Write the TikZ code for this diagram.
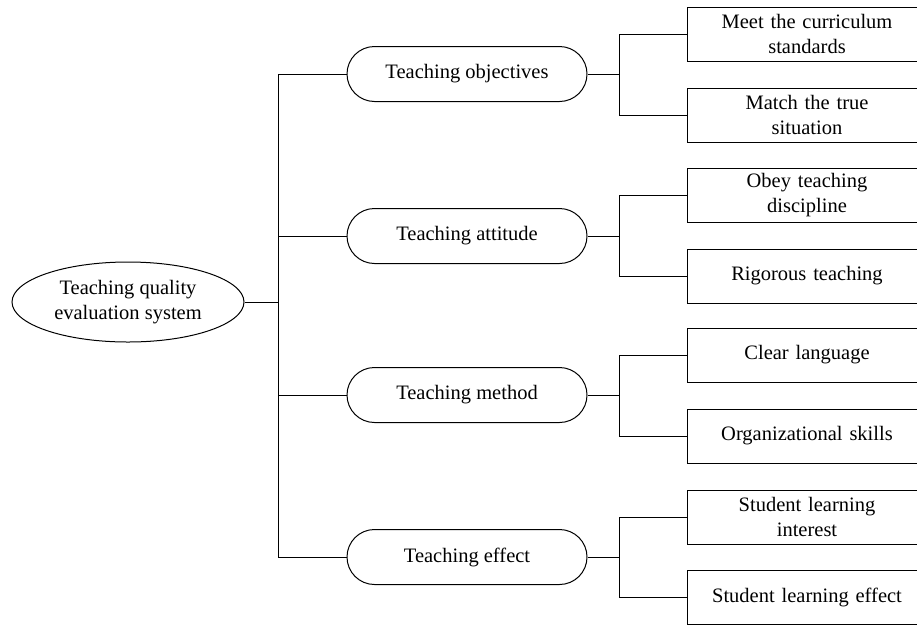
\documentclass[tikz,border=0pt]{standalone}
\usepackage{fontspec}
\setmainfont{Liberation Serif}
\usetikzlibrary{shapes.geometric, shapes.misc}

\begin{document}
\begin{tikzpicture}[x=1pt, y=-1pt, line width=1pt,
  font=\fontsize{20.5}{25}\selectfont,
  rootnode/.style={ellipse, draw, minimum width=232pt, minimum height=80pt, inner sep=0pt, align=center},
  mainnode/.style={rounded rectangle, draw, minimum width=240pt, minimum height=55pt, inner sep=0pt},
  leafnode/.style={rectangle, draw, minimum width=240pt, minimum height=54pt, inner sep=0pt, text width=225pt, align=center}]
\useasboundingbox (0,0) rectangle (917,627);
\clip (0,0) rectangle (917,627);
% root:
\node (root) at (128,302) [rootnode] {Teaching quality\\evaluation system};
% second level:
\node (obj) at (467,74) [mainnode] {Teaching objectives};
\node (att) at (467,236) [mainnode] {Teaching attitude};
\node (met) at (467,395) [mainnode] {Teaching method};
\node (eff) at (467,557) [mainnode] {Teaching effect};
% leaves:
\node (obj1) at (807,34) [leafnode] {Meet the curriculum\\standards};
\node (obj2) at (807,115) [leafnode] {Match the true\\situation};
\node (att1) at (807,195) [leafnode] {Obey teaching\\discipline};
\node (att2) at (807,276) [leafnode] {Rigorous teaching};
\node (met1) at (807,355) [leafnode] {Clear language};
\node (met2) at (807,436) [leafnode] {Organizational skills};
\node (eff1) at (807,517) [leafnode] {Student learning\\interest};
\node (eff2) at (807,597) [leafnode] {Student learning effect};
% trunk:
\coordinate (trunk) at (278,0);
\draw (root.east) -- (root.east -| trunk);
\draw (obj.west -| trunk) -- (eff.west -| trunk);
\foreach \m in {obj,att,met,eff}
  \draw (\m.west) -- (\m.west -| trunk);
% forks:
\coordinate (fork) at (619,0);
\foreach \m in {obj,att,met,eff} {
  \draw (\m.east) -- (fork |- \m.east);
  \draw (\m1.west) -| (fork |- \m.east);
  \draw (\m2.west) -| (fork |- \m.east);
}
\end{tikzpicture}
\end{document}
